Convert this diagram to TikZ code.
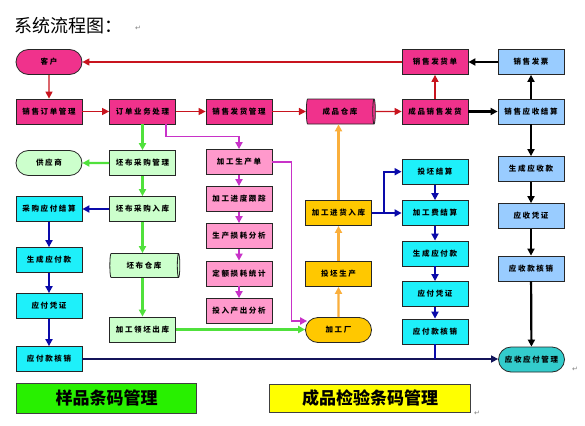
\documentclass[tikz,border=0pt]{standalone}
\usepackage{fontspec}
\setmainfont{Noto Sans CJK SC}
\newfontfamily\nf[LetterSpace=22]{Noto Sans CJK SC}
\newfontfamily\symf{DejaVu Sans}
\usetikzlibrary{shapes.geometric,shapes.misc,arrows.meta,calc}
\definecolor{magN}{RGB}{240,50,140}
\definecolor{redL}{RGB}{200,20,30}
\definecolor{blueN}{RGB}{153,204,255}
\definecolor{greenN}{RGB}{204,255,204}
\definecolor{cyanN}{RGB}{30,240,250}
\definecolor{pinkN}{RGB}{255,153,204}
\definecolor{goldN}{RGB}{255,200,0}
\definecolor{orangeL}{RGB}{250,175,60}
\definecolor{greenL}{RGB}{80,225,60}
\definecolor{navyL}{RGB}{10,10,170}
\definecolor{navyD}{RGB}{20,20,90}
\definecolor{purpleL}{RGB}{200,50,200}
\definecolor{tealN}{RGB}{51,204,204}
\definecolor{bgreenN}{RGB}{40,240,0}
\definecolor{yellowN}{RGB}{255,255,0}
\begin{document}
\begin{tikzpicture}[x=1pt,y=-1pt,
  box/.style={draw=black!85, line width=0.8pt, minimum width=66pt, minimum height=25pt,
    inner sep=0pt, text=black, font={\nf\bfseries\fontsize{7.5}{8}\selectfont}},
  stad/.style={rounded rectangle},
  cyl/.style={cylinder, shape border rotate=0, aspect=0.35},
  mag/.style={box, fill=magN},
  lblue/.style={box, fill=blueN},
  lgreen/.style={box, fill=greenN},
  cyanbox/.style={box, fill=cyanN},
  pinkbox/.style={box, fill=pinkN},
  goldbox/.style={box, fill=goldN},
  tip/.style={-{Triangle[length=7pt,width=7pt]}},
  rl/.style={tip, draw=redL, line width=1.4pt},
  kl/.style={tip, draw=black, line width=2.2pt},
  gl/.style={tip, draw=greenL, line width=2.2pt},
  nl/.style={tip, draw=navyL, line width=2.2pt},
  pl/.style={tip, draw=purpleL, line width=1.8pt},
  ol/.style={tip, draw=orangeL, line width=2.2pt},
  big/.style={draw=black!75, line width=0.8pt, inner sep=0pt, font={\bfseries\fontsize{17}{18}\selectfont}},
  pmark/.style={text=gray, inner sep=0pt, font={\symf\fontsize{7}{8}\selectfont}}
]
\fill[white] (0,0) rectangle (585,425);
\useasboundingbox (0,0) rectangle (585,425);

\node[anchor=west, inner sep=0pt, font=\fontsize{18}{19}\selectfont] (title) at (14,26) {系统流程图：};
\node[pmark] (pm1) at (138,28) {↵};

% top rows
\node[mag, stad] (kh) at (49,62) {客户};
\node[mag] (xsfhd) at (435,62) {销售发货单};
\node[lblue] (xsfp) at (531,62) {销售发票};
\node[mag] (xsdd) at (49,111.5) {销售订单管理};
\node[mag] (ddyw) at (142.5,111.5) {订单业务处理};
\node[mag] (xsfhgl) at (239,111.5) {销售发货管理};
\node[mag, cyl, minimum width=25pt, minimum height=69pt] (cpck) at (340,111.5) {成品仓库};
\node[mag] (cpxsfh) at (435,111.5) {成品销售发货};
\node[lblue] (xsys) at (531,111.5) {销售应收结算};

% green column
\node[lgreen, stad] (gys) at (49,163) {供应商};
\node[lgreen] (pbcg) at (142.5,163) {坯布采购管理};
\node[lgreen] (pbrk) at (142.5,209) {坯布采购入库};
\node[lgreen, cyl, minimum width=24pt, minimum height=70pt] (pbck) at (144,265.5) {坯布仓库};
\node[lgreen] (lpck) at (142.5,329.5) {加工领坯出库};

% left cyan column
\node[cyanbox] (cgyf) at (49,209) {采购应付结算};
\node[cyanbox] (scyf1) at (49,260) {生成应付款};
\node[cyanbox] (yfpz1) at (49,306) {应付凭证};
\node[cyanbox] (yfhx1) at (49,359) {应付款核销};

% pink column
\node[pinkbox] (jgscd) at (239,162) {加工生产单};
\node[pinkbox] (jgjd) at (239,199) {加工进度跟踪};
\node[pinkbox] (scsh) at (239,236) {生产损耗分析};
\node[pinkbox] (desh) at (239,273.5) {定额损耗统计};
\node[pinkbox] (trcc) at (239,311) {投入产出分析};

% gold column
\node[goldbox, stad] (jgc) at (338.5,330) {加工厂};
\node[goldbox] (tpsc) at (338.5,274) {投坯生产};
\node[goldbox] (jgjh) at (338.5,213) {加工进货入库};

% right cyan column
\node[cyanbox] (tpjs) at (435,171.7) {投坯结算};
\node[cyanbox] (jgfjs) at (435,213) {加工费结算};
\node[cyanbox] (scyf2) at (435,253.5) {生成应付款};
\node[cyanbox] (yfpz2) at (435,294) {应付凭证};
\node[cyanbox] (yfhx2) at (435,331.5) {应付款核销};

% right blue column
\node[lblue] (scys) at (531,169) {生成应收款};
\node[lblue] (yspz) at (531,216) {应收凭证};
\node[lblue] (yshx) at (531,268.5) {应收款核销};
\node[box, stad, fill=tealN] (ysyf) at (531.5,359.5) {应收应付管理};
\node[pmark] (pm2) at (575,369) {↵};

% bottom boxes
\node[big, fill=bgreenN, minimum width=180pt, minimum height=30pt] (yptm) at (106.7,398.3) {样品条码管理};
\node[big, fill=yellowN, minimum width=201pt, minimum height=28pt] (cpjy) at (370,398.5) {成品检验条码管理};
\node[pmark] (pm3) at (477,413) {↵};

% red connectors
\draw[rl] (xsfhd.west) -- (kh.east);
\draw[rl] (kh) -- (xsdd);
\draw[rl] (xsdd) -- (ddyw);
\draw[rl] (ddyw) -- (xsfhgl);
\draw[rl] (xsfhgl) -- (cpck);
\draw[rl] (cpck) -- (cpxsfh);
\draw[rl] (cpxsfh) -- (xsfhd);

% black connectors
\draw[kl] (cpxsfh) -- (xsys);
\draw[kl] (xsys) -- (xsfp);
\draw[kl] (xsfp) -- (xsfhd);
\draw[kl] (xsys) -- (scys);
\draw[kl] (scys) -- (yspz);
\draw[kl] (yspz) -- (yshx);
\draw[kl] (yshx) -- (ysyf);

% green connectors
\draw[gl] (ddyw) -- (pbcg);
\draw[gl] (pbcg) -- (gys);
\draw[gl] (pbcg) -- (pbrk);
\draw[gl] (pbrk.south) -- (pbrk.south |- pbck.north);
\draw[gl] (pbck.south -| lpck.north) -- (lpck.north);
\draw[gl] (lpck.east) -- (lpck.east -| jgc.west);

% navy connectors
\draw[nl] (pbrk) -- (cgyf);
\draw[nl] (cgyf) -- (scyf1);
\draw[nl] (scyf1) -- (yfpz1);
\draw[nl] (yfpz1) -- (yfhx1);
\coordinate (br) at (384,213);
\draw[nl] (jgjh.east) -- (jgfjs.west);
\draw[nl] (br) |- (tpjs.west);
\draw[nl] (tpjs) -- (jgfjs);
\draw[nl] (jgfjs) -- (scyf2);
\draw[nl] (scyf2) -- (yfpz2);
\draw[nl] (yfpz2) -- (yfhx2);
\draw[tip, draw=navyD, line width=1.5pt] (yfhx1.east) -- (yfhx1.east -| ysyf.west);
\draw[draw=navyL, line width=2.2pt] (yfhx2.south) -- (yfhx2.south |- yfhx1.east);

% purple connectors
\draw[pl] ($(ddyw.south)+(23.5,0)$) -- ++(0,12) -| (jgscd.north);
\coordinate (jgcin) at ($(jgc.west)+(2,-9)$);
\draw[pl] (jgscd.east) -- ++(19,0) |- (jgcin);
\draw[pl] (jgscd) -- (jgjd);
\draw[pl] (jgjd) -- (scsh);
\draw[pl] (scsh) -- (desh);
\draw[pl] (desh) -- (trcc);

% orange connectors
\draw[ol] (jgc) -- (tpsc);
\draw[ol] (tpsc) -- (jgjh);
\draw[ol] (jgjh.north) -- (jgjh.north |- cpck.south);
\end{tikzpicture}
\end{document}
